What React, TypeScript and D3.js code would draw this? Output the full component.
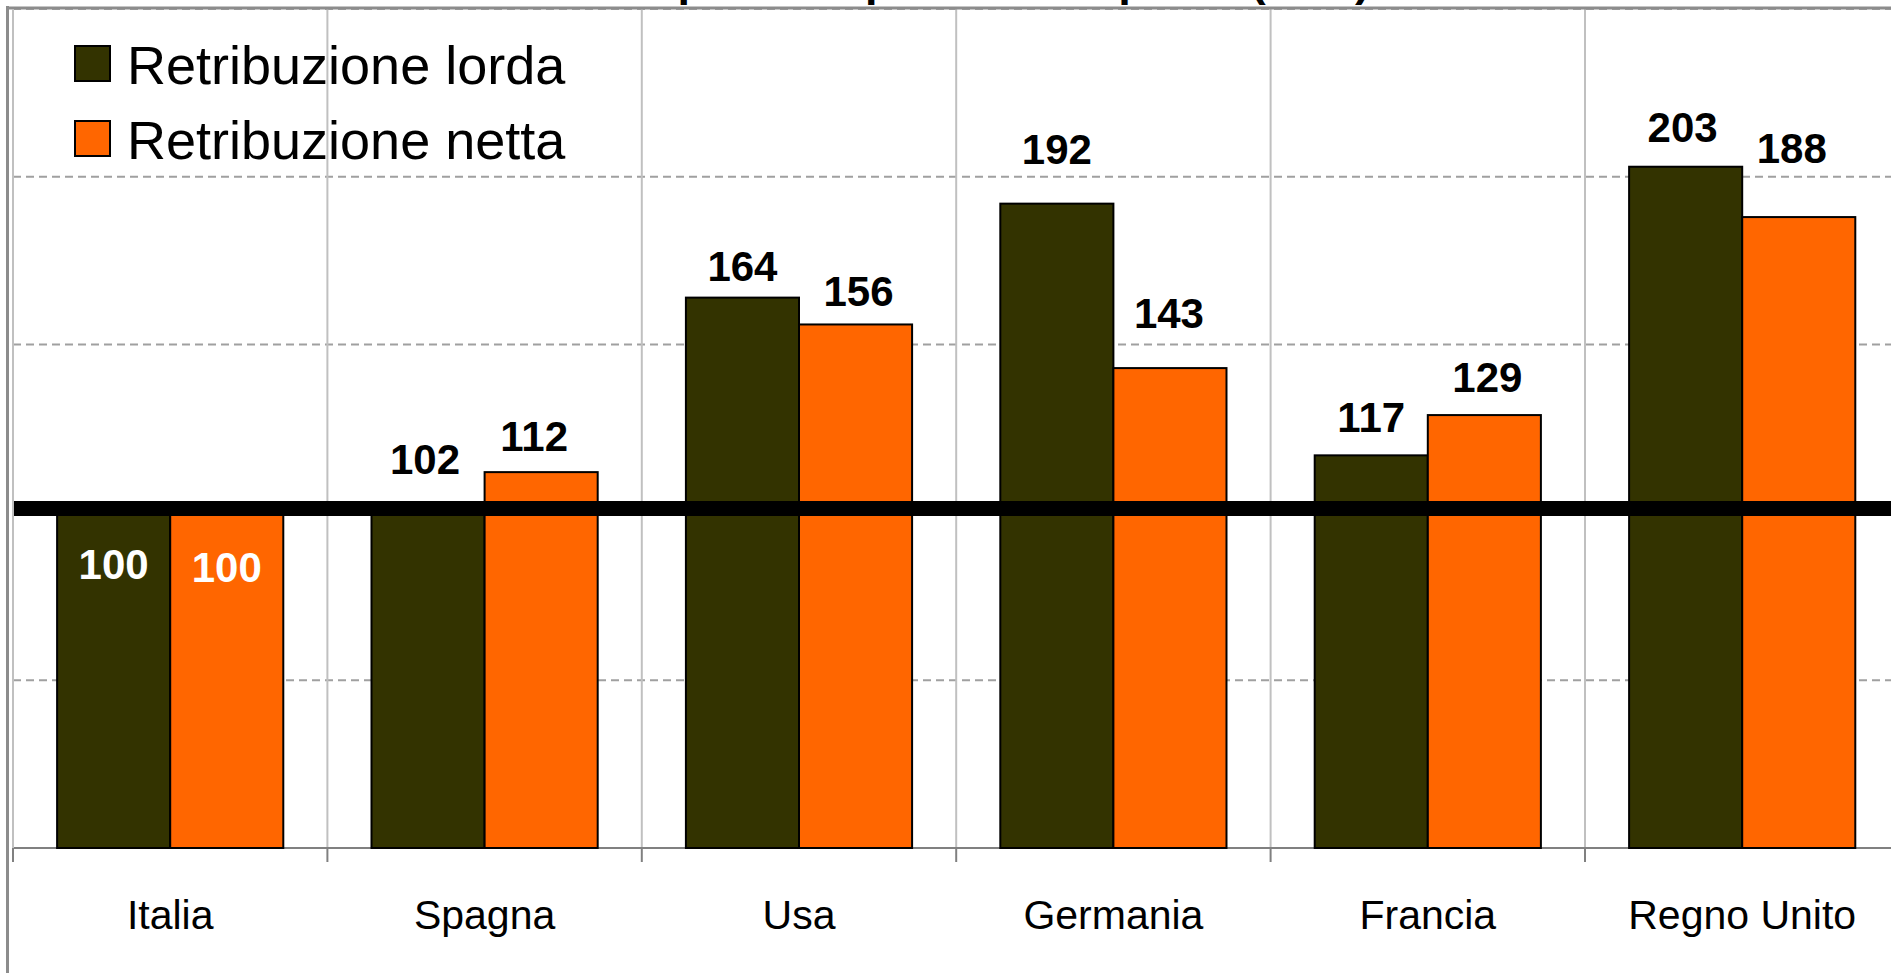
import React from 'react';
import * as d3 from 'd3';

const categories = ['Italia', 'Spagna', 'Usa', 'Germania', 'Francia', 'Regno Unito'];
const seriesNames = ['Retribuzione lorda', 'Retribuzione netta'];
const lordaValues = [100, 102, 164, 192, 117, 203];
const nettaValues = [100, 112, 156, 143, 129, 188];
const yTickValues = [0, 50, 100, 150, 200, 250];
const referenceValue = 100;
const title = "Retribuzioni a parità di potere d'acquisto (PPA)";

// label nudges (px) relative to bar top centre, as they were placed by hand in the original
const lordaLabelShift = [[0, 67], [-3, -32], [0, -17], [0, -40], [0, -23], [-3, -25]];
const nettaLabelShift = [[0, 70], [-7, -21], [3, -18], [-1, -40], [3, -23], [-7, -54]];

const colors = ['#333300', '#ff6600'];
const font = "'Liberation Sans', Arial, Helvetica, sans-serif";

const App: React.FC = () => {
  const width = 1891;
  const height = 973;
  const plotLeft = 13;
  const plotRight = 13 + 6 * 314.4;
  const plotTop = 9;
  const plotBottom = 848;

  const xScale = d3.scaleBand<string>().domain(categories).range([plotLeft, plotRight]).padding(0);
  const inner = d3.scaleBand<string>().domain(seriesNames).range([0, xScale.bandwidth()]).paddingInner(0).paddingOuter(0.39);
  const yScale = d3.scaleLinear().domain([0, 250]).range([plotBottom, plotTop]);

  const series = [
    { name: seriesNames[0], values: lordaValues, shift: lordaLabelShift, color: colors[0] },
    { name: seriesNames[1], values: nettaValues, shift: nettaLabelShift, color: colors[1] },
  ];

  const boundaries = categories.map(c => xScale(c) as number);

  return (
    <svg width={width} height={height} style={{ position: 'absolute', left: 0, top: 0, background: '#fff' }} fontFamily={font}>
      {/* title, mostly cut off by the top edge */}
      <text x={1370} y={-4.5} textAnchor="end" fontSize={45} fontWeight="bold" fill="#000">{title}</text>

      {/* horizontal dashed gridlines */}
      {yTickValues.filter(v => v > 0).map(v => (
        <line key={v} x1={plotLeft} x2={width} y1={yScale(v)} y2={yScale(v)} stroke="#a0a0a0" strokeWidth={2} strokeDasharray="8 5" />
      ))}
      {/* vertical gridlines at category boundaries */}
      {boundaries.map((x, i) => (
        <line key={i} x1={x} x2={x} y1={plotTop} y2={plotBottom} stroke="#c0c0c0" strokeWidth={2} />
      ))}
      {/* baseline + ticks */}
      <line x1={plotLeft} x2={width} y1={plotBottom} y2={plotBottom} stroke="#808080" strokeWidth={2} />
      {boundaries.map((x, i) => (
        <line key={i} x1={x} x2={x} y1={plotBottom} y2={plotBottom + 14} stroke="#808080" strokeWidth={2} />
      ))}

      {/* bars */}
      {series.map(s => (
        <g key={s.name}>
          {categories.map((c, i) => {
            const x = (xScale(c) as number) + (inner(s.name) as number);
            const y = yScale(s.values[i]);
            return <rect key={c} x={x} y={y} width={inner.bandwidth()} height={plotBottom - y} fill={s.color} stroke="#000" strokeWidth={2} />;
          })}
        </g>
      ))}

      {/* thick reference line at 100 */}
      <line x1={plotLeft - 1} x2={width} y1={yScale(referenceValue) - 4} y2={yScale(referenceValue) - 4} stroke="#000" strokeWidth={15} />

      {/* value labels */}
      {series.map(s => (
        <g key={s.name + '-lab'}>
          {categories.map((c, i) => {
            const cx = (xScale(c) as number) + (inner(s.name) as number) + inner.bandwidth() / 2 + s.shift[i][0];
            const y = yScale(s.values[i]) + s.shift[i][1];
            return (
              <text key={c} x={cx} y={y} textAnchor="middle" fontSize={42} fontWeight="bold" fill={s.shift[i][1] > 0 ? '#fff' : '#000'}>
                {s.values[i]}
              </text>
            );
          })}
        </g>
      ))}

      {/* category labels */}
      {categories.map(c => (
        <text key={c} x={(xScale(c) as number) + xScale.bandwidth() / 2} y={929} textAnchor="middle" fontSize={41} fill="#000">{c}</text>
      ))}

      {/* legend */}
      {series.map((s, i) => (
        <g key={s.name + '-leg'} transform={`translate(75, ${46 + i * 75})`}>
          <rect width={35} height={35} fill={s.color} stroke="#000" strokeWidth={2} />
          <text x={52} y={38} fontSize={54} fill="#000">{s.name}</text>
        </g>
      ))}

      {/* outer frame */}
      <line x1={7.5} x2={7.5} y1={6} y2={height} stroke="#8c8c8c" strokeWidth={3} />
      <line x1={6} x2={width} y1={8} y2={8} stroke="#8c8c8c" strokeWidth={3} />
      <line x1={plotLeft} x2={plotLeft} y1={9} y2={plotBottom} stroke="#c0c0c0" strokeWidth={2} />
    </svg>
  );
};

export default App;
